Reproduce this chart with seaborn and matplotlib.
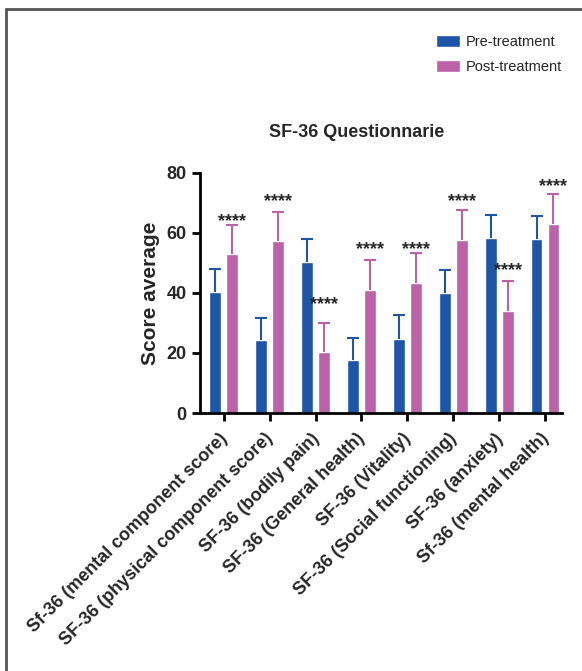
import numpy as np
import pandas as pd
import seaborn as sns
import matplotlib.pyplot as plt
import matplotlib.transforms as mtransforms
from matplotlib.patches import Patch
from matplotlib.lines import Line2D

categories = [
    "Sf-36 (mental component score)",
    "SF-36 (physical component score)",
    "SF-36 (bodily pain)",
    "SF-36 (General health)",
    "SF-36 (Vitality)",
    "SF-36 (Social functioning)",
    "SF-36 (anxiety)",
    "Sf-36 (mental health)",
]
groups = ["Pre-treatment", "Post-treatment"]
pre_mean = [40.4, 24.2, 50.3, 17.6, 24.8, 39.9, 58.3, 58.1]
pre_sd = [7.5, 7.6, 7.6, 7.5, 7.7, 7.6, 7.6, 7.5]
post_mean = [52.9, 57.3, 20.2, 41.0, 43.3, 57.6, 34.1, 63.1]
post_sd = [9.9, 9.8, 9.8, 10.0, 9.9, 9.9, 10.0, 9.9]
star_y = [63.9, 70.4, 36.0, 54.5, 54.5, 70.4, 47.3, 75.6]
star_label = "****"

blue = "#1f55a6"
pink = "#bb62a8"

df = pd.DataFrame({
    "category": categories * 2,
    "group": [groups[0]] * len(categories) + [groups[1]] * len(categories),
    "score": pre_mean + post_mean,
})

sns.set_style("ticks")
plt.rcParams["font.family"] = ["Liberation Sans", "DejaVu Sans"]

fig = plt.figure(figsize=(5.82, 6.71), dpi=100)
ax = fig.add_axes([0.3436, 0.3845, 0.622, 0.3577])

sns.barplot(data=df, x="category", y="score", hue="group",
            palette=[blue, pink], width=0.74, gap=0.3,
            errorbar=None, legend=False, ax=ax, saturation=1)

# error bars (upper only) from the drawn bars
for cont, sds, col in zip(ax.containers, [pre_sd, post_sd], [blue, pink]):
    xs = [p.get_x() + p.get_width() / 2 for p in cont]
    ys = [p.get_height() for p in cont]
    eb = ax.errorbar(xs, ys, yerr=[np.zeros(len(sds)), sds], fmt="none",
                     ecolor=col, elinewidth=1.5, capsize=4, capthick=1.5)
    eb[1][0].set_visible(False)  # no cap at the bar top

# significance stars over post-treatment bars
for p, sy in zip(ax.containers[1], star_y):
    ax.text(p.get_x() + p.get_width() / 2, sy, star_label, ha="center",
            va="center", fontsize=13, fontweight="bold")

ax.set_ylim(0, 80)
ax.set_yticks([0, 20, 40, 60, 80])
ax.set_xlim(-0.52, 7.37)
ax.set_xlabel("")
ax.set_ylabel("Score average", fontsize=15, fontweight="bold", labelpad=5)
ax.tick_params(axis="both", width=2, length=6, color="black")
ax.tick_params(axis="y", labelsize=13)
ax.tick_params(axis="x", labelsize=13)
for lab in ax.get_yticklabels():
    lab.set_fontweight("bold")
shift = mtransforms.ScaledTranslation(-0.05, -0.04, fig.dpi_scale_trans)
for lab in ax.get_xticklabels():
    lab.set_fontweight("bold")
    lab.set_rotation(45)
    lab.set_ha("right")
    lab.set_rotation_mode("anchor")
    lab.set_transform(lab.get_transform() + shift)
for s in ["left", "bottom"]:
    ax.spines[s].set_linewidth(2)
    ax.spines[s].set_color("black")
sns.despine(ax=ax)

fig.text(0.612, 0.803, "SF-36 Questionnarie", ha="center", va="center",
         fontsize=13, fontweight="bold")

handles = [Patch(facecolor=blue), Patch(facecolor=pink)]
fig.legend(handles, groups, loc="upper left", bbox_to_anchor=(0.727, 0.967),
           frameon=False, fontsize=10.5, handlelength=1.6, handleheight=0.85,
           labelspacing=0.75, handletextpad=0.4)

# thin grey frame at top and left
fig.add_artist(Line2D([0.011, 1.0], [0.987, 0.987], color="#555555", lw=2,
                      transform=fig.transFigure))
fig.add_artist(Line2D([0.011, 0.011], [0.0, 0.987], color="#555555", lw=2,
                      transform=fig.transFigure))

fig.savefig("out.png", dpi=100)
